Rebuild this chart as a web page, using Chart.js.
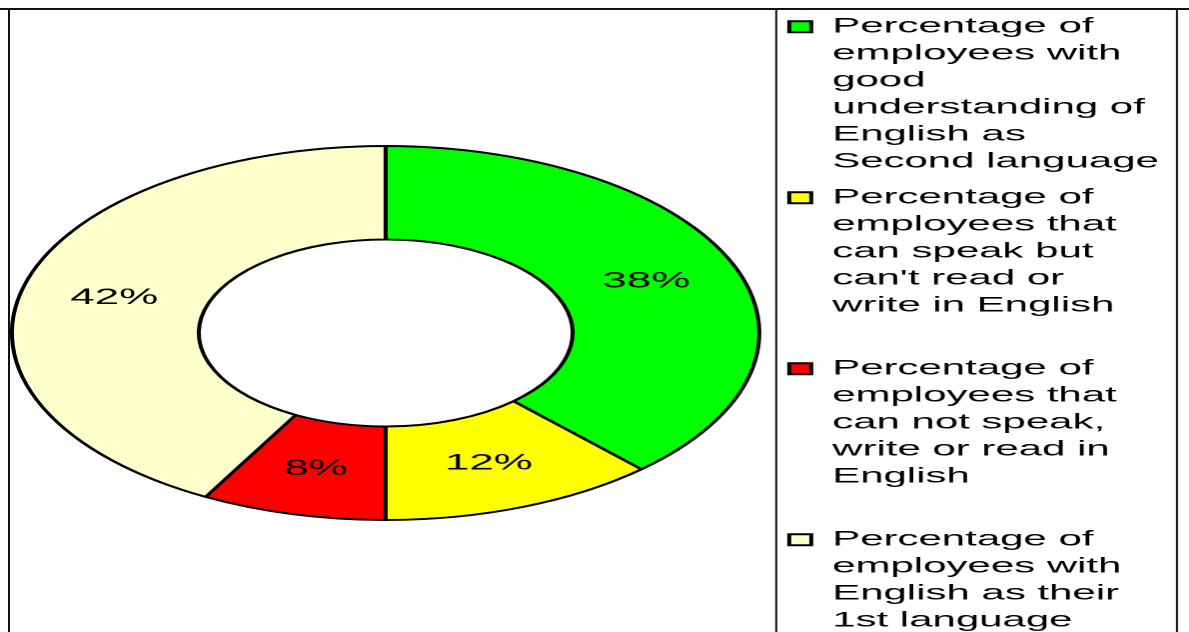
<!DOCTYPE html>
<html>
<head>
<meta charset="utf-8">
<script src="https://cdn.jsdelivr.net/npm/chart.js@4/dist/chart.umd.min.js"></script>
<style>
  html, body { margin: 0; padding: 0; background: #fff; overflow: hidden; }
  #wrap {
    position: absolute; left: 0; top: 0;
    width: 595px; height: 700px;
    transform: scale(1.998319, 1);
    transform-origin: 0 0;
  }
</style>
</head>
<body>
<div id="wrap"><canvas id="chart" width="595" height="700"></canvas></div>
<script>
// Legend categories, one entry per line of the wrapped legend text
const categories = [
  ['Percentage of', 'employees with', 'good', 'understanding of', 'English as', 'Second language'],
  ['Percentage of', 'employees that', 'can speak but', "can't read or", 'write in English'],
  ['Percentage of', 'employees that', 'can not speak,', 'write or read in', 'English'],
  ['Percentage of', 'employees with', 'English as their', '1st language']
];
// Share of employees in each category (%)
const shares = [38, 12, 8, 42];
const sliceColors = ['#00FF00', '#FFFF00', '#FF0000', '#FFFFCC'];

const FONT = "'Liberation Sans', Arial, sans-serif";
const LEGEND_SLOT_LINES = 6;

// Thin frame: outer top/left edges and the box around the legend
const framePlugin = {
  id: 'frame',
  afterDraw(chart) {
    const ctx = chart.ctx;
    const lg = chart.legend;
    ctx.save();
    ctx.strokeStyle = '#111';
    ctx.lineWidth = 2;
    ctx.beginPath();
    ctx.moveTo(0, 9); ctx.lineTo(chart.width, 9);
    ctx.stroke();
    ctx.lineWidth = 1;
    ctx.beginPath();
    ctx.moveTo(4.5, 9); ctx.lineTo(4.5, chart.height);
    ctx.moveTo(lg.left + 2.5, 9); ctx.lineTo(lg.left + 2.5, chart.height);
    ctx.moveTo(lg.left + 203, 9); ctx.lineTo(lg.left + 203, chart.height);
    ctx.stroke();
    ctx.restore();
  }
};

// Percentage text in the middle of each ring segment
const valueLabelPlugin = {
  id: 'valueLabels',
  afterDatasetsDraw(chart) {
    const ctx = chart.ctx;
    const meta = chart.getDatasetMeta(0);
    const values = chart.data.datasets[0].data;
    ctx.save();
    ctx.fillStyle = '#000';
    ctx.font = '22px ' + FONT;
    ctx.textAlign = 'center';
    ctx.textBaseline = 'middle';
    meta.data.forEach((arc, i) => {
      const p = arc.tooltipPosition();
      ctx.fillText(values[i] + '%', p.x, p.y);
    });
    ctx.restore();
  }
};

new Chart(document.getElementById('chart'), {
  type: 'doughnut',
  data: {
    labels: categories,
    datasets: [{
      data: shares,
      backgroundColor: sliceColors,
      borderColor: '#000',
      borderWidth: 2
    }]
  },
  options: {
    responsive: false,
    devicePixelRatio: 2,
    animation: false,
    events: [],
    radius: 187,
    cutout: 96,
    layout: { padding: { left: 0, right: 12.1, top: 7.3, bottom: 41.3 } },
    plugins: {
      tooltip: { enabled: false },
      legend: {
        position: 'right',
        align: 'start',
        labels: {
          color: '#000',
          font: { family: FONT, size: 21, lineHeight: 27 / 21 },
          boxWidth: 11,
          boxHeight: 11,
          padding: 9,
          textAlign: 'left',
          generateLabels(chart) {
            const base = Chart.overrides.doughnut.plugins.legend.labels.generateLabels(chart);
            const last = base.length - 1;
            return base.map((item, i) => {
              const lines = categories[i].slice();
              if (i < last) {
                while (lines.length < LEGEND_SLOT_LINES) lines.push('');
              }
              item.text = lines;
              item.strokeStyle = '#000';
              item.lineWidth = 2;
              return item;
            });
          }
        }
      }
    }
  },
  plugins: [valueLabelPlugin, framePlugin]
});
</script>
</body>
</html>
